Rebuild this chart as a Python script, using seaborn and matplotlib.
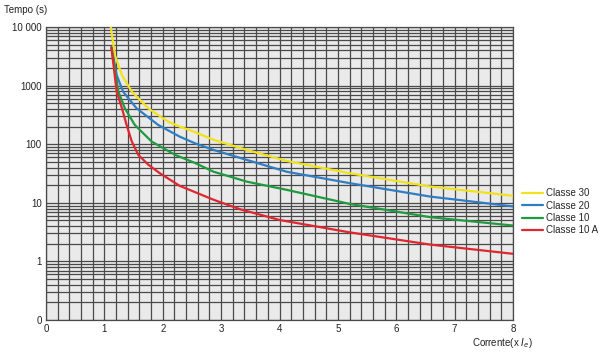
import matplotlib
matplotlib.use("Agg")
import matplotlib.pyplot as plt
import numpy as np
import pandas as pd
import seaborn as sns
from matplotlib.ticker import FixedLocator, FixedFormatter, NullFormatter

# curve values (x in multiples of Ie, time in s)
x_c30 = [1.11, 1.18, 1.30, 1.47, 1.75, 2.09, 2.29, 2.52, 2.87, 3.44, 4.12, 5.2, 6.58, 8.0]
t_c30 = [10000, 3300, 1520, 790, 412, 244, 200, 166, 119, 80, 52, 32, 19, 13.2]

x_c20 = [1.12, 1.21, 1.32, 1.55, 1.92, 2.29, 2.55, 2.87, 3.44, 4.12, 5.2, 6.58, 8.0]
t_c20 = [4500, 1520, 790, 412, 214, 135, 104, 80, 54, 34, 21.7, 12.8, 8.7]

x_c10 = [1.12, 1.24, 1.35, 1.52, 1.81, 2.21, 2.55, 2.87, 3.44, 4.12, 5.2, 6.58, 8.0]
t_c10 = [4500, 790, 412, 214, 111, 66, 48, 34, 23, 16.7, 9.6, 5.7, 4.1]

x_c10a = [1.12, 1.21, 1.30, 1.38, 1.47, 1.58, 1.75, 1.95, 2.29, 2.87, 3.32, 4.0, 5.2, 6.58, 8.0]
t_c10a = [4500, 790, 412, 214, 111, 66, 45, 32, 19.5, 11.3, 7.8, 5.1, 3.14, 1.94, 1.35]

classes = ["Classe 30", "Classe 20", "Classe 10", "Classe 10 A"]
colors = ["#f2e21a", "#2f7dc3", "#1f9a3e", "#e0262e"]

y_ticks = [0.1, 1, 10, 100, 1000, 10000]
y_labels = ["0", "1", "10", "100", "1000", "10 000"]
x_ticks = [0, 1, 2, 3, 4, 5, 6, 7, 8]

frames = []
for name, xs, ts in zip(classes, [x_c30, x_c20, x_c10, x_c10a],
                        [t_c30, t_c20, t_c10, t_c10a]):
    frames.append(pd.DataFrame({"corrente": xs, "tempo": ts, "classe": name}))
df = pd.concat(frames, ignore_index=True)

sns.set_theme(style="white")
plt.rcParams["font.family"] = ["Liberation Sans", "DejaVu Sans"]

fig = plt.figure(figsize=(6.0, 3.56), dpi=100)
ax = fig.add_axes([0.0767, 0.101, 0.7783, 0.823])
ax.set_facecolor("#eaeaea")

sns.lineplot(data=df, x="corrente", y="tempo", hue="classe",
             hue_order=classes, palette=colors, estimator=None,
             sort=True, linewidth=1.6, ax=ax, zorder=3)

ax.set_yscale("log")
ax.set_xlim(0, 8)
ax.set_ylim(0.1, 10000)

# grid: every 0.2 on x, every log minor step on y
ax.xaxis.set_major_locator(FixedLocator(x_ticks))
ax.xaxis.set_minor_locator(FixedLocator(np.arange(0, 8.01, 0.2)))
ax.yaxis.set_major_locator(FixedLocator(y_ticks))
ax.yaxis.set_major_formatter(FixedFormatter(y_labels))
minor_y = [m * 10.0 ** e for e in range(-1, 4) for m in range(2, 10)]
ax.yaxis.set_minor_locator(FixedLocator(minor_y))
ax.yaxis.set_minor_formatter(NullFormatter())
ax.grid(which="both", color="#4a4a4a", linewidth=0.9, zorder=1)
ax.set_axisbelow(True)
ax.tick_params(which="both", length=0, labelsize=7, colors="#222222", pad=3)

for s in ax.spines.values():
    s.set_color("#4a4a4a")
    s.set_linewidth(0.9)

ax.set_xlabel("")
ax.set_ylabel("")
fig.text(0.007, 0.972, "Tempo (s)", fontsize=7, ha="left", va="center", color="#222222")
fig.text(0.837, 0.036, "Corrente(x $I_e$)", fontsize=7, ha="center", va="center", color="#222222")

leg = ax.legend(loc="center left", bbox_to_anchor=(0.868, 0.405),
                bbox_transform=fig.transFigure, frameon=False, fontsize=7,
                handlelength=2.2, handletextpad=0.3, labelspacing=0.25,
                borderpad=0.1, borderaxespad=0)
for line in leg.get_lines():
    line.set_linewidth(1.6)

fig.savefig("out.png", dpi=100)
